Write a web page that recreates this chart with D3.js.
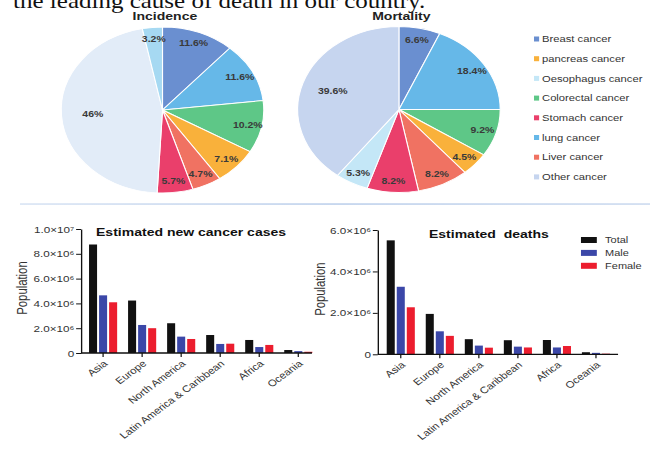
<!DOCTYPE html>
<html>
<head>
<meta charset="utf-8">
<script src="https://cdn.jsdelivr.net/npm/d3@7"></script>
<style>
body { margin: 0; background: #fff; }
text { font-family: Arial, "Liberation Sans", sans-serif; }
</style>
</head>
<body>
<svg id="chart" width="650" height="452"></svg>
<script>
// pie data (percent), in drawing order, clockwise from 12 o'clock
var incCategories = ["Breast cancer", "lung cancer", "Colorectal cancer", "pancreas cancer", "Liver cancer", "Stomach cancer", "Other cancer", "Oesophagus cancer"];
var incValues = [11.6, 11.6, 10.2, 7.1, 4.7, 5.7, 46, 3.2];
var morCategories = ["Breast cancer", "lung cancer", "Colorectal cancer", "pancreas cancer", "Liver cancer", "Stomach cancer", "Oesophagus cancer", "Other cancer"];
var morValues = [6.6, 18.4, 9.2, 4.5, 8.2, 8.2, 5.3, 39.6];
var legendCategories = ["Breast cancer", "pancreas cancer", "Oesophagus cancer", "Colorectal cancer", "Stomach cancer", "lung cancer", "Liver cancer", "Other cancer"];

// bar data
var regions = ["Asia", "Europe", "North America", "Latin America & Caribbean", "Africa", "Oceania"];
var seriesNames = ["Total", "Male", "Female"];
var casesTotal = [8.75e6, 4.23e6, 2.40e6, 1.45e6, 1.05e6, 0.24e6];
var casesMale = [4.65e6, 2.26e6, 1.32e6, 0.73e6, 0.48e6, 0.15e6];
var casesFemale = [4.09e6, 2.00e6, 1.13e6, 0.75e6, 0.65e6, 0.10e6];
var deathsTotal = [5.50e6, 1.95e6, 0.73e6, 0.68e6, 0.69e6, 0.10e6];
var deathsMale = [3.26e6, 1.11e6, 0.42e6, 0.37e6, 0.33e6, 0.07e6];
var deathsFemale = [2.27e6, 0.89e6, 0.32e6, 0.33e6, 0.40e6, 0.03e6];
var casesTicks = [0, 2e6, 4e6, 6e6, 8e6, 1e7];
var deathsTicks = [0, 2e6, 4e6, 6e6];

var sx = 1.22; // the whole figure is stretched sideways
var svg = d3.select("#chart");
var root = svg.append("g").attr("transform", "scale(" + sx + ",1)");

// cut-off line of text from the page above
root.append("text")
    .attr("x", 10.7).attr("y", 7.5)
    .style("font-family", "'Liberation Serif', 'Times New Roman', serif")
    .style("font-size", "20.5px")
    .attr("fill", "#111")
    .text("the leading cause of death in our country.");

var pieColor = d3.scaleOrdinal()
    .domain(legendCategories)
    .range(["#6a8fd0", "#f9b13b", "#c4e7f7", "#5ec787", "#ea3f6b", "#66b8e8", "#f07262", "#c6d5ef"]);
var incColor = function (c) {
    if (c == "Other cancer") return "#e2ecf8";
    if (c == "Oesophagus cancer") return "#a6d9f2";
    return pieColor(c);
};

var R = 83;

function drawPie(cx, cy, title, cats, vals, color) {
    var g = root.append("g").attr("transform", "translate(" + cx + "," + cy + ")");
    var pie = d3.pie().sort(null).value(function (d) { return d.v; });
    var arc = d3.arc().innerRadius(0).outerRadius(R);
    var slices = pie(cats.map(function (c, i) { return {c: c, v: vals[i]}; }));

    g.selectAll("path").data(slices).join("path")
        .attr("d", arc)
        .attr("fill", function (d) { return color(d.data.c); })
        .attr("stroke", "#fff")
        .attr("stroke-width", 0.9);

    g.selectAll("text.lbl").data(slices).join("text")
        .attr("class", "lbl")
        .attr("transform", function (d) {
            var k = d.data.v > 30 ? 0.69 : 0.86; // big slice label sits nearer the centre
            var c = d3.arc().innerRadius(R * k).outerRadius(R * k).centroid(d);
            return "translate(" + c + ")";
        })
        .attr("text-anchor", "middle")
        .attr("dy", "0.35em")
        .style("font-size", "8.6px")
        .style("font-weight", "bold")
        .attr("fill", "#3a3a3a")
        .text(function (d) { return d.data.v + "%"; });

    root.append("text")
        .attr("x", cx + 2).attr("y", 20)
        .attr("text-anchor", "middle")
        .style("font-size", "11.5px")
        .style("font-weight", "bold")
        .attr("fill", "#222")
        .text(title);
}

drawPie(133.2, 110, "Incidence", incCategories, incValues, incColor);
drawPie(327, 109.5, "Mortality", morCategories, morValues, pieColor);

// pie legend
var leg = root.append("g").attr("transform", "translate(437.7,39)");
var legRow = leg.selectAll("g").data(legendCategories).join("g")
    .attr("transform", function (d, i) { return "translate(0," + (i * 19.7) + ")"; });
legRow.append("rect")
    .attr("x", 0).attr("y", -2.5).attr("width", 4.2).attr("height", 5)
    .attr("fill", function (d) { return pieColor(d); });
legRow.append("text")
    .attr("x", 6.6).attr("dy", "0.35em")
    .style("font-size", "9.2px")
    .attr("fill", "#333")
    .text(function (d) { return d; });

// divider
var grad = svg.append("defs").append("linearGradient").attr("id", "div");
grad.append("stop").attr("offset", "0%").attr("stop-color", "#d6e2f3");
grad.append("stop").attr("offset", "50%").attr("stop-color", "#b9cdea");
grad.append("stop").attr("offset", "100%").attr("stop-color", "#c9d8ee");
root.append("rect")
    .attr("x", 16.4).attr("y", 203.3).attr("width", 517).attr("height", 1.5)
    .attr("fill", "url(#div)");

var barColor = d3.scaleOrdinal().domain(seriesNames).range(["#111111", "#3b47a8", "#ec1d2e"]);

var sup = {"0": "\u2070", "1": "\u00b9", "2": "\u00b2", "3": "\u00b3", "4": "\u2074", "5": "\u2075", "6": "\u2076", "7": "\u2077", "8": "\u2078", "9": "\u2079"};
function sciFormat(d) {
    if (d === 0) return "0";
    var e = Math.floor(Math.log10(d));
    var m = d / Math.pow(10, e);
    return m.toFixed(1) + "\u00d710" + String(e).split("").map(function (c) { return sup[c]; }).join("");
}

function drawBars(o) {
    var g = root.append("g");
    var x0 = d3.scaleBand().domain(regions).range([o.r0, o.r1]).paddingInner(0.28).paddingOuter(0.14);
    var x1 = d3.scaleBand().domain(seriesNames).range([0, x0.bandwidth()]).paddingInner(0.2);
    var y = d3.scaleLinear().domain([0, o.max]).range([o.bottom, o.top]);

    var rows = regions.map(function (r, i) {
        return {region: r, vals: [o.total[i], o.male[i], o.female[i]]};
    });

    g.selectAll("g.grp").data(rows).join("g")
        .attr("class", "grp")
        .attr("transform", function (d) { return "translate(" + x0(d.region) + ",0)"; })
        .selectAll("rect").data(function (d) {
            return d.vals.map(function (v, i) { return {key: seriesNames[i], v: v}; });
        }).join("rect")
        .attr("x", function (d) { return x1(d.key); })
        .attr("y", function (d) { return y(d.v); })
        .attr("width", x1.bandwidth())
        .attr("height", function (d) { return y(0) - y(d.v); })
        .attr("fill", function (d) { return barColor(d.key); });

    var ya = g.append("g")
        .attr("transform", "translate(" + o.axisX + ",0)")
        .call(d3.axisLeft(y).tickValues(o.ticks).tickSize(4).tickSizeOuter(0).tickFormat(sciFormat));
    ya.select(".domain").attr("stroke", "#111").attr("stroke-width", 1.1);
    ya.selectAll(".tick line").attr("stroke", "#111");
    ya.selectAll(".tick text")
        .attr("x", -5.5)
        .style("font-size", "9.6px")
        .style("font-family", "Arial, 'Liberation Sans', sans-serif")
        .attr("fill", "#333");

    var xa = g.append("g")
        .attr("transform", "translate(0," + y(0) + ")")
        .call(d3.axisBottom(x0).tickSize(4).tickSizeOuter(0));
    xa.select(".domain").remove();
    xa.selectAll(".tick line").attr("stroke", "#111");
    xa.selectAll(".tick text")
        .attr("x", 0).attr("y", 0).attr("dy", "0.35em")
        .attr("transform", "translate(2,9) rotate(-42)")
        .style("text-anchor", "end")
        .style("font-size", "9.4px")
        .style("font-family", "Arial, 'Liberation Sans', sans-serif")
        .attr("fill", "#333");
    g.append("line")
        .attr("x1", o.axisX).attr("x2", o.axisEnd)
        .attr("y1", y(0)).attr("y2", y(0))
        .attr("stroke", "#111").attr("stroke-width", 1.3);

    g.append("text")
        .attr("transform", "translate(" + o.labelX + "," + ((o.top + o.bottom) / 2 - 3) + ") rotate(-90)")
        .attr("text-anchor", "middle")
        .style("font-size", "11.3px")
        .attr("fill", "#333")
        .text("Population");

    g.append("text")
        .attr("x", o.titleX).attr("y", o.titleY)
        .style("font-size", "11.5px")
        .style("font-weight", "bold")
        .style("white-space", "pre")
        .attr("fill", "#111")
        .text(o.title);
}

drawBars({
    r0: 68.5, r1: 260.5, axisX: 66.4, axisEnd: 255.7,
    top: 229, bottom: 353, max: 1e7, ticks: casesTicks,
    total: casesTotal, male: casesMale, female: casesFemale,
    labelX: 22.5, title: "Estimated new cancer cases", titleX: 78.7, titleY: 236
});
drawBars({
    r0: 312.5, r1: 504.5, axisX: 309.6, axisEnd: 506.6,
    top: 230, bottom: 354.3, max: 6e6, ticks: deathsTicks,
    total: deathsTotal, male: deathsMale, female: deathsFemale,
    labelX: 266, title: "Estimated  deaths", titleX: 351.6, titleY: 238
});

// bar legend
var bl = root.append("g").attr("transform", "translate(476.2,240)");
var blRow = bl.selectAll("g").data(seriesNames).join("g")
    .attr("transform", function (d, i) { return "translate(0," + (i * 12.9) + ")"; });
blRow.append("rect")
    .attr("x", 0).attr("y", -3).attr("width", 13).attr("height", 6)
    .attr("fill", function (d) { return barColor(d); });
blRow.append("text")
    .attr("x", 19.8).attr("dy", "0.35em")
    .style("font-size", "9px")
    .attr("fill", "#333")
    .text(function (d) { return d; });
</script>
</body>
</html>
